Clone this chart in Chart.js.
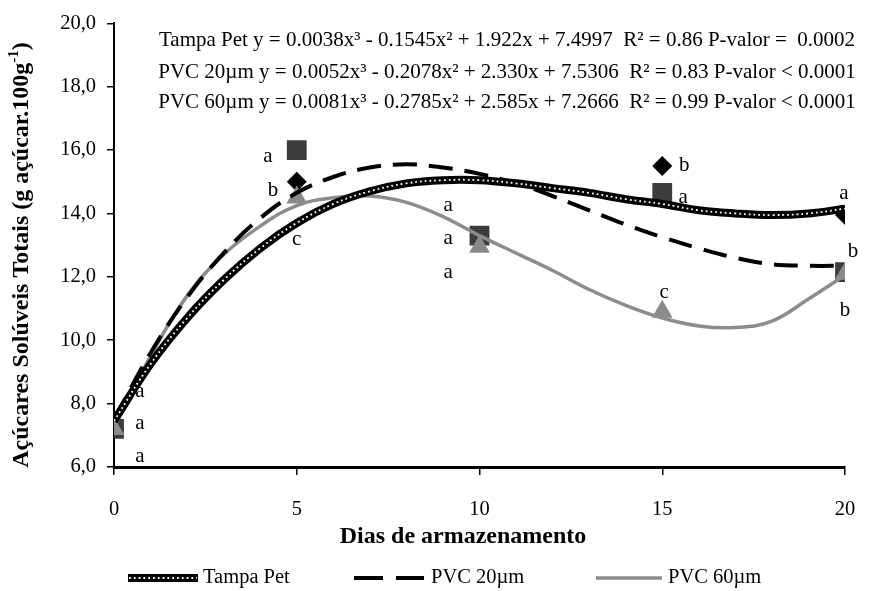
<!DOCTYPE html>
<html><head><meta charset="utf-8">
<script src="https://cdn.jsdelivr.net/npm/chart.js@4.4.0/dist/chart.umd.min.js"></script>
<style>html,body{margin:0;padding:0;background:#fff;}#wrap{width:871px;height:591px;}</style>
</head><body><div id="wrap"><canvas id="c" width="871" height="591"></canvas></div>
<script>
// ---- observed values ----
const days = [0, 5, 10, 15, 20];
const tampaPetObs = [7.2, 15.0, 13.3, 15.5, 13.95];
const pvc20Obs = [7.2, 16.0, 13.3, 14.65, 12.15];
const pvc60Obs = [7.2, 14.5, 12.95, 10.9, 12.1];

// ---- fitted curves ----
const curveDays = [0,1,2,3,4,5,6,7,8,9,10,11,12,13,14,15,16,17,18,19,20];
const tampaPetCurve = [7.45,9.25,10.7,11.9,12.9,13.7,14.3,14.7,14.95,15.05,15.05,14.95,14.8,14.65,14.45,14.3,14.1,14.0,13.95,14.0,14.15];
const pvc20Curve = [7.5,9.6,11.35,12.75,13.85,14.65,15.15,15.45,15.55,15.45,15.25,14.95,14.55,14.1,13.65,13.25,12.9,12.6,12.4,12.35,12.35];
const pvc60Curve = [7.25,9.5,11.4,12.7,13.6,14.25,14.5,14.55,14.35,13.9,13.3,12.75,12.2,11.6,11.1,10.7,10.45,10.4,10.6,11.3,12.05];

// ---- significance letters ----
const letterText = ['a','a','a', 'a','b','c', 'a','a','a', 'b','a','c', 'a','b','b'];
const letterDay = [0.71,0.71,0.71, 4.21,4.35,5.0, 9.14,9.14,9.14, 15.6,15.57,15.05, 19.97,20.22,20.0];
const letterValue = [8.37,7.36,6.32, 15.81,14.74,13.19, 14.26,13.22,12.15, 15.5,14.49,11.52, 14.64,12.81,10.95];

// ---- texts ----
const equations = [
  'Tampa Pet y = 0.0038x³ - 0.1545x² + 1.922x + 7.4997  R² = 0.86 P-valor =  0.0002',
  'PVC 20µm y = 0.0052x³ - 0.2078x² + 2.330x + 7.5306  R² = 0.83 P-valor < 0.0001',
  'PVC 60µm y = 0.0081x³ - 0.2785x² + 2.585x + 7.2666  R² = 0.99 P-valor < 0.0001'
];
const seriesNames = ['Tampa Pet', 'PVC 20µm', 'PVC 60µm'];
const xTitle = 'Dias de armazenamento';
const yTitle = 'Açúcares Solúveis Totais (g açúcar.100g';
const yTitleSup = '-1';
const yTitleEnd = ')';

const SERIF = '"Liberation Serif", "Times New Roman", serif';
const pts = (xs, ys) => xs.map((d, i) => ({x: d, y: ys[i]}));

const extras = {
  id: 'extras',
  afterDatasetsDraw(chart) {
    const {ctx, scales: {x, y}} = chart;
    ctx.save();
    ctx.fillStyle = '#000';
    ctx.font = '21px ' + SERIF;
    ctx.textAlign = 'center';
    ctx.textBaseline = 'middle';
    letterText.forEach((t, i) => ctx.fillText(t, x.getPixelForValue(letterDay[i]), y.getPixelForValue(letterValue[i])));
    ctx.restore();
  },
  afterDraw(chart) {
    const {ctx} = chart;
    ctx.save();
    ctx.fillStyle = '#000';
    // equations
    ctx.font = '21px ' + SERIF;
    ctx.textBaseline = 'middle';
    ctx.textAlign = 'center';
    const eqY = [40, 72, 102];
    equations.forEach((t, i) => {
      const w = ctx.measureText(t).width;
      const sx = Math.min(1, 702 / w);
      ctx.save();
      ctx.translate(507, eqY[i]);
      ctx.scale(sx, 1);
      ctx.fillText(t, 0, 0);
      ctx.restore();
    });
    // x title
    ctx.font = 'bold 24px ' + SERIF;
    ctx.fillText(xTitle, 463, 537);
    // y title rotated
    ctx.save();
    ctx.translate(22, 255);
    ctx.rotate(-Math.PI / 2);
    ctx.font = 'bold 24px ' + SERIF;
    const w1 = ctx.measureText(yTitle).width;
    ctx.font = 'bold 15px ' + SERIF;
    const w2 = ctx.measureText(yTitleSup).width;
    ctx.font = 'bold 24px ' + SERIF;
    const w3 = ctx.measureText(yTitleEnd).width;
    let sx0 = -(w1 + w2 + w3) / 2;
    ctx.textAlign = 'left';
    ctx.fillText(yTitle, sx0, 0);
    ctx.font = 'bold 15px ' + SERIF;
    ctx.fillText(yTitleSup, sx0 + w1, -8);
    ctx.font = 'bold 24px ' + SERIF;
    ctx.fillText(yTitleEnd, sx0 + w1 + w2, 0);
    ctx.restore();
    // legend
    const ly = 578;
    ctx.lineCap = 'butt';
    ctx.beginPath(); ctx.strokeStyle = '#000'; ctx.lineWidth = 8;
    ctx.moveTo(128, ly); ctx.lineTo(198, ly); ctx.stroke();
    ctx.beginPath(); ctx.strokeStyle = '#fff'; ctx.lineWidth = 1.8; ctx.setLineDash([1.8, 3]);
    ctx.moveTo(129, ly); ctx.lineTo(197, ly); ctx.stroke();
    ctx.setLineDash([]);
    ctx.beginPath(); ctx.strokeStyle = '#000'; ctx.lineWidth = 4;
    ctx.moveTo(354, ly); ctx.lineTo(383, ly); ctx.moveTo(396, ly); ctx.lineTo(424, ly); ctx.stroke();
    ctx.beginPath(); ctx.strokeStyle = '#8c8c8c'; ctx.lineWidth = 3.5;
    ctx.moveTo(596, ly); ctx.lineTo(662, ly); ctx.stroke();
    ctx.font = '20.5px ' + SERIF;
    ctx.textAlign = 'left';
    ctx.fillStyle = '#000';
    ctx.fillText(seriesNames[0], 203, ly);
    ctx.fillText(seriesNames[1], 431, ly);
    ctx.fillText(seriesNames[2], 668, ly);
    ctx.restore();
  }
};

new Chart(document.getElementById('c'), {
  type: 'scatter',
  data: {
    datasets: [
      {label: seriesNames[0] + ' dots', data: pts(curveDays, tampaPetCurve), showLine: true, borderColor: '#ffffff', borderWidth: 1.8, borderDash: [1.8, 3], pointRadius: 0, order: -1, tension: 0.4},
      {label: seriesNames[0], data: pts(curveDays, tampaPetCurve), showLine: true, borderColor: '#000000', borderWidth: 8, pointRadius: 0, order: 0, tension: 0.4},
      {label: seriesNames[1], data: pts(curveDays, pvc20Curve), showLine: true, borderColor: '#000000', borderWidth: 4, borderDash: [24, 12], pointRadius: 0, order: 0.5, tension: 0.4},
      {label: seriesNames[2], data: pts(curveDays, pvc60Curve), showLine: true, borderColor: '#8c8c8c', borderWidth: 3.5, pointRadius: 0, order: 0.6, tension: 0.4},
      {label: seriesNames[2] + ' obs', data: pts(days, pvc60Obs), showLine: false, pointStyle: 'triangle', pointRadius: 12, backgroundColor: '#8a8a8a', borderColor: '#8a8a8a', borderWidth: 0, order: 1},
      {label: seriesNames[1] + ' obs', data: pts(days, pvc20Obs), showLine: false, pointStyle: 'rect', pointRadius: 14, backgroundColor: '#3c3c3c', borderColor: '#3c3c3c', borderWidth: 0, order: 2},
      {label: seriesNames[0] + ' obs', data: pts(days, tampaPetObs), showLine: false, pointStyle: 'rectRot', pointRadius: 10, backgroundColor: '#000000', borderColor: '#000000', borderWidth: 0, order: 3}
    ]
  },
  options: {
    responsive: false,
    animation: false,
    devicePixelRatio: 1,
    layout: {padding: {left: 0, top: 23, right: 26, bottom: 0}},
    plugins: {legend: {display: false}, tooltip: {enabled: false}},
    scales: {
      x: {
        type: 'linear', min: 0, max: 20,
        afterFit: s => { s.height = 124; s.paddingLeft = 0; s.paddingRight = 10; },
        ticks: {stepSize: 5, color: '#000', font: {family: SERIF, size: 20.5}, padding: 22},
        grid: {drawOnChartArea: false, drawTicks: true, tickLength: 8, color: '#000', lineWidth: 1.5},
        border: {display: true, color: '#000', width: 3}
      },
      y: {
        min: 6, max: 20,
        afterFit: s => { s.width = 114; },
        ticks: {stepSize: 2, color: '#000', font: {family: SERIF, size: 20.5}, padding: 11,
          callback: v => v.toFixed(1).replace('.', ',')},
        grid: {drawOnChartArea: false, drawTicks: true, tickLength: 7, color: '#000', lineWidth: 1.5},
        border: {display: true, color: '#000', width: 2}
      }
    }
  },
  plugins: [extras]
});
</script></body></html>
